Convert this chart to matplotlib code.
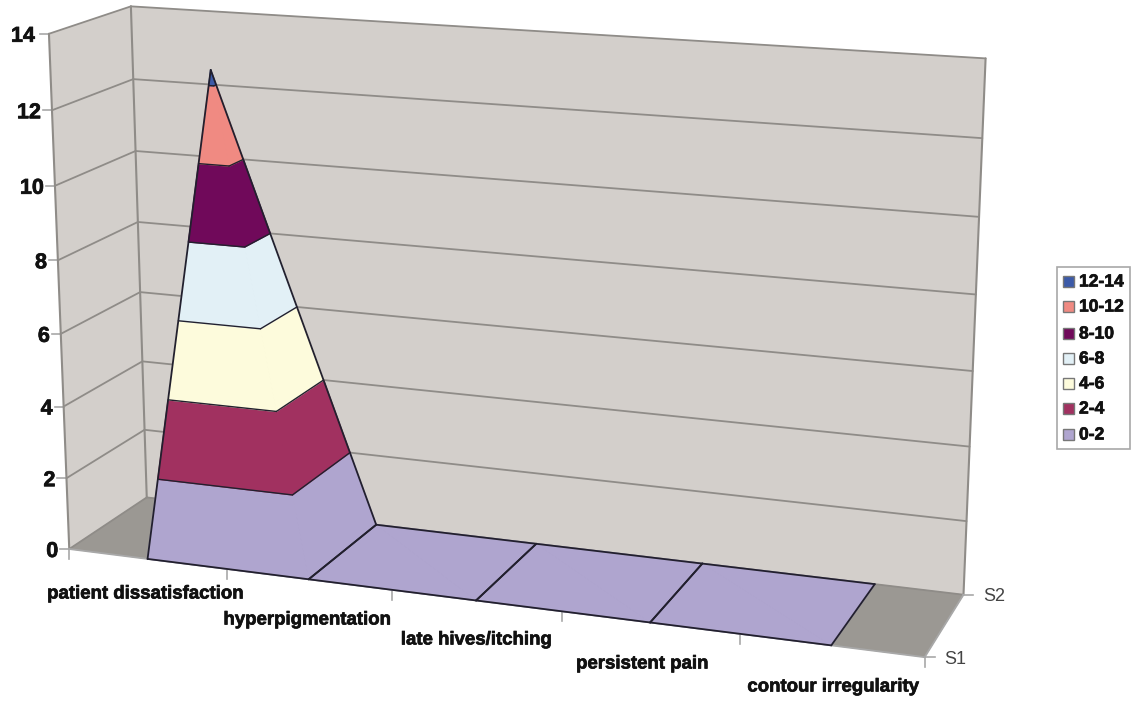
import numpy as np
import matplotlib
matplotlib.use('Agg')
import matplotlib.pyplot as plt
import matplotlib.patheffects as pe
from matplotlib.patches import Polygon, Rectangle

# data
categories = ['patient dissatisfaction', 'hyperpigmentation', 'late hives/itching',
              'persistent pain', 'contour irregularity']
series_names = ['S1', 'S2']
s1_values = [0, 0, 0, 0, 0]
s2_values = [12.4, 0, 0, 0, 0]
z_ticks = [0, 2, 4, 6, 8, 10, 12, 14]
bands = ['0-2', '2-4', '4-6', '6-8', '8-10', '10-12', '12-14']
band_colors = ['#afa5cf', '#a13160', '#fdfbdc', '#e2f0f6', '#70095a', '#f08a82', '#3c5aa8']

WALL = '#d3cfcb'
FLOOR = '#9b9893'
GRID = '#8f8c88'
FONT = 'Liberation Sans'
HEAVY = [pe.withStroke(linewidth=0.5, foreground='#111111')]

# camera fit: (category pos, depth, value) -> pixel position
calib = [
    ((0, 0, 0), (69, 549)), ((0, 0, 14), (49, 34)), ((0, 1, 14), (130.5, 6)),
    ((0, 1, 0), (146, 497)), ((5, 0, 0), (924, 657)), ((5, 1, 0), (964, 594)),
    ((5, 1, 14), (986, 59)), ((0.5, 0, 0), (147, 559)), ((4.5, 0, 0), (831, 646)),
    ((4.5, 1, 0), (874, 585)), ((1.5, 1, 0), (377, 525)), ((1.5, 0, 0), (310, 578)),
    ((2.5, 0, 0), (476, 601)), ((3.5, 0, 0), (650, 624)), ((0, 1, 12), (133, 79)),
    ((0.5, 1, 12.4), (211, 72)), ((5, 1, 12), (982, 137)), ((5, 1, 2), (967, 520)),
    ((0, 0, 2), (67, 478)), ((0, 0, 12), (52, 109)),
]


def fit_camera(pairs):
    rows, rhs = [], []
    for (x, y, z), (u, v) in pairs:
        rows.append([x, y, z, 1, 0, 0, 0, 0, -u * x, -u * y, -u * z])
        rows.append([0, 0, 0, 0, x, y, z, 1, -v * x, -v * y, -v * z])
        rhs += [u, v]
    p = np.linalg.lstsq(np.array(rows, float), np.array(rhs, float), rcond=None)[0]
    return np.append(p, 1).reshape(3, 4)


CAM = fit_camera(calib)


def project(x, y, z):
    h = CAM @ np.array([x, y, z, 1.0])
    return h[0] / h[2], h[1] / h[2]


def clip(tri, low, high):
    # cut a 3d polygon down to the part between two heights
    def cut(pts, keep):
        out = []
        for i, a in enumerate(pts):
            b = pts[(i + 1) % len(pts)]
            da, db = keep(a), keep(b)
            if da >= 0:
                out.append(a)
            if da * db < 0:
                t = da / (da - db)
                out.append(tuple(np.array(a) + t * (np.array(b) - np.array(a))))
        return out
    pts = cut(tri, lambda p: p[2] - low)
    if pts:
        pts = cut(pts, lambda p: high - p[2])
    return pts


fig = plt.figure(figsize=(11.38, 7.03), dpi=100)
ax = fig.add_axes([0, 0, 1, 1])
ax.set_xlim(0, 1138)
ax.set_ylim(703, 0)
ax.axis('off')

n = len(categories)
z_max = z_ticks[-1]


def face(pts, color, zorder=1, lw=0.4):
    ax.add_patch(Polygon([project(*p) for p in pts], closed=True, facecolor=color,
                         edgecolor=color, linewidth=lw, zorder=zorder))


def line(a, b, color=GRID, lw=1.3, zorder=2):
    pa, pb = project(*a), project(*b)
    ax.plot([pa[0], pb[0]], [pa[1], pb[1]], color=color, lw=lw, zorder=zorder,
            solid_capstyle='round')


# walls and floor
face([(0, 1, 0), (n, 1, 0), (n, 1, z_max), (0, 1, z_max)], WALL)
face([(0, 0, 0), (0, 1, 0), (0, 1, z_max), (0, 0, z_max)], WALL)
face([(0, 0, 0), (n, 0, 0), (n, 1, 0), (0, 1, 0)], FLOOR)

for z in z_ticks:
    line((0, 0, z), (0, 1, z))
    line((0, 1, z), (n, 1, z))
    px, py = project(0, 0, z)
    ax.plot([px - 9, px], [py, py], color='#a8a8a8', lw=1.2, zorder=2)
    ax.text(px - (14 if z == z_max else 11), py + 2.5, str(z), ha='right', va='center',
            fontsize=15.5, fontweight='bold', family=FONT, color='#111111', path_effects=HEAVY)

line((0, 0, 0), (0, 0, z_max), lw=1.5)
line((0, 1, 0), (0, 1, z_max), lw=1.5)
line((n, 1, 0), (n, 1, z_max), lw=1.5)
line((0, 0, 0), (n, 0, 0), color='#a8a8a8')
line((n, 0, 0), (n, 1, 0), color='#a8a8a8')

# category ticks on the front edge
for c in range(n + 1):
    px, py = project(c, 0, 0)
    ax.plot([px, px], [py, py + 10], color='#a8a8a8', lw=1.2, zorder=2)

label_pos = [(145, 594), (307, 620), (476, 640), (642, 664), (833, 687)]
for name, (lx, ly) in zip(categories, label_pos):
    ax.text(lx, ly, name, ha='center', va='center', fontsize=13.4, fontweight='bold',
            family=FONT, color='#111111', path_effects=HEAVY)

# series ticks on the right edge
for d, name in enumerate(series_names):
    px, py = project(n, d, 0)
    ax.plot([px, px + 10], [py, py], color='#a8a8a8', lw=1.2, zorder=2)
    ax.text(px + 20, py + 2, name, ha='left', va='center', fontsize=13,
            family=FONT, color='#444444')

# surface bands
for c in range(n - 1):
    a = (c + 0.5, 0, s1_values[c])
    b = (c + 0.5, 1, s2_values[c])
    d = (c + 1.5, 0, s1_values[c + 1])
    e = (c + 1.5, 1, s2_values[c + 1])
    for tri in [[a, b, d], [b, e, d]]:
        for i, color in enumerate(band_colors):
            if i == 0:
                pts = clip(tri, -1, z_ticks[1])
            else:
                pts = clip(tri, z_ticks[i], z_ticks[i + 1])
            if len(pts) >= 3:
                face(pts, color, zorder=3, lw=1.0)
            # contour line where the band starts
            if i > 0:
                edge = [p for p in pts if abs(p[2] - z_ticks[i]) < 1e-9]
                if len(edge) == 2:
                    line(edge[0], edge[1], color='#22202e', lw=1.0, zorder=4)
    line(a, d, color='#22202e', lw=1.3, zorder=5)
    line(b, e, color='#22202e', lw=1.3, zorder=5)
    line(a, b, color='#22202e', lw=1.3, zorder=5)
    line(d, e, color='#22202e', lw=1.3, zorder=5)

# legend
ax.add_patch(Rectangle((1057, 267), 73, 182, facecolor='white', edgecolor='#a8a8a8',
                       linewidth=1.2, zorder=6))
legend_y = [434, 408, 383, 358, 333, 306, 281]
for name, color, y in zip(bands, band_colors, legend_y):
    ax.add_patch(Rectangle((1063, y - 5.5), 11, 11, facecolor=color, edgecolor='#777777',
                           linewidth=1, zorder=7))
    ax.text(1079, y + 1, name, ha='left', va='center', fontsize=12.6, fontweight='bold',
            family=FONT, color='#111111', zorder=7, path_effects=HEAVY)

fig.savefig('out.png', dpi=100)
